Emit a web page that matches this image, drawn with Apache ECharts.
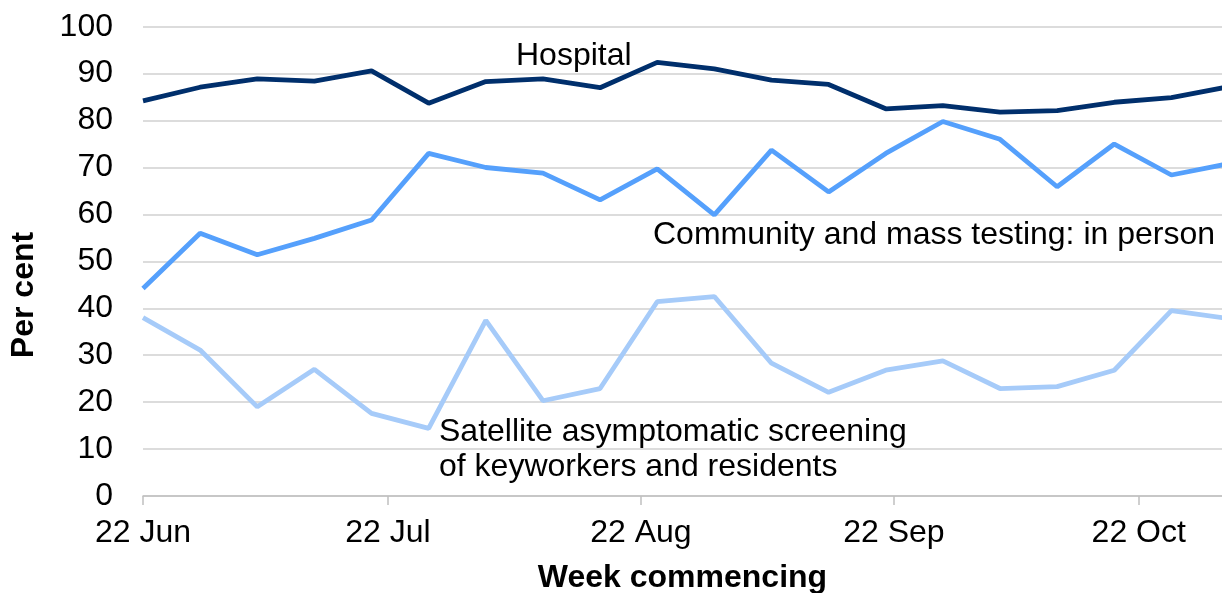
<!DOCTYPE html>
<html>
<head>
<meta charset="utf-8">
<script src="https://cdn.jsdelivr.net/npm/echarts@6/dist/echarts.min.js"></script>
<style>
html,body{margin:0;padding:0;background:#fff;}
#chart{width:1222px;height:593px;}
</style>
</head>
<body>
<div id="chart"></div>
<script>
// ---- data ----
var weeks = ['2020-06-22','2020-06-29','2020-07-06','2020-07-13','2020-07-20','2020-07-27',
             '2020-08-03','2020-08-10','2020-08-17','2020-08-24','2020-08-31','2020-09-07',
             '2020-09-14','2020-09-21','2020-09-28','2020-10-05','2020-10-12','2020-10-19',
             '2020-10-26','2020-11-02'];
var hospital = [84.2,87.1,88.9,88.4,90.6,83.7,88.3,88.9,87.0,92.4,91.0,88.6,87.7,82.5,83.2,81.8,82.1,83.9,84.9,87.2];
var community = [44.2,56.0,51.4,54.9,58.8,73.0,70.0,68.8,63.1,69.7,59.9,73.7,64.8,73.0,79.8,76.0,65.9,75.0,68.4,70.8];
var satellite = [38.0,31.1,19.0,27.0,17.6,14.4,37.4,20.3,22.9,41.4,42.5,28.3,22.1,26.8,28.8,22.9,23.3,26.8,39.5,37.8];
var tickDates = ['2020-06-22','2020-07-22','2020-08-22','2020-09-22','2020-10-22'];
var tickLabels = ['22 Jun','22 Jul','22 Aug','22 Sep','22 Oct'];
var seriesNames = ['Hospital','Community and mass testing: in person','Satellite asymptomatic screening\nof keyworkers and residents'];
var axisTitles = ['Week commencing','Per cent'];

function t(s){ var p = s.split('-'); return Date.UTC(+p[0], +p[1]-1, +p[2]); }
function pairs(vals){ return weeks.map(function(w,i){ return [t(w), vals[i]]; }); }
var tickVals = tickDates.map(t);

var FONT = '"Liberation Sans", Arial, sans-serif';
var FS = 32;
var chart = echarts.init(document.getElementById('chart'), null, {renderer:'canvas'});
chart.setOption({
  animation: false,
  backgroundColor: '#ffffff',
  grid: { left: 143, right: 0, top: 26.7, bottom: 97, containLabel: false, outerBoundsMode: 'none' },
  xAxis: {
    type: 'value',
    min: t('2020-06-22'),
    max: t('2020-06-22') + 132.2 * 86400000,
    name: axisTitles[0],
    nameLocation: 'middle',
    nameGap: 66,
    nameTextStyle: { fontFamily: FONT, fontSize: FS, fontWeight: 'bold', color: '#000' },
    axisLine: { show: true, lineStyle: { color: '#c0c0c0', width: 1.5 } },
    axisTick: { show: true, length: 9, customValues: tickVals, lineStyle: { color: '#c0c0c0', width: 1.5 } },
    axisLabel: {
      customValues: tickVals,
      margin: 21,
      fontFamily: FONT, fontSize: FS, color: '#000',
      formatter: function(v){ var i = tickVals.indexOf(v); return i >= 0 ? tickLabels[i] : ''; }
    },
    splitLine: { show: false }
  },
  yAxis: {
    type: 'value', min: 0, max: 100, interval: 10,
    axisLine: { show: false },
    axisTick: { show: false },
    axisLabel: { margin: 30, fontFamily: FONT, fontSize: FS, color: '#000' },
    splitLine: { show: true, lineStyle: { color: '#d0d0d0', width: 1.5 } }
  },
  series: [
    { name: seriesNames[0], type: 'line', data: pairs(hospital), showSymbol: false, symbol: 'none',
      lineStyle: { color: '#002f6c', width: 4.8 }, z: 3 },
    { name: seriesNames[1], type: 'line', data: pairs(community), showSymbol: false, symbol: 'none',
      lineStyle: { color: '#55a0fc', width: 4.8 }, z: 2 },
    { name: seriesNames[2], type: 'line', data: pairs(satellite), showSymbol: false, symbol: 'none',
      lineStyle: { color: '#a6cbf9', width: 4.8 }, z: 1 }
  ],
  graphic: [
    { type: 'text', x: 24, y: 295, rotation: Math.PI / 2, silent: true,
      style: { text: axisTitles[1], font: 'bold ' + FS + 'px ' + FONT, fill: '#000', align: 'center', verticalAlign: 'middle' } },
    { type: 'text', left: 516, top: 40, silent: true,
      style: { text: seriesNames[0], font: FS + 'px ' + FONT, fill: '#000' } },
    { type: 'text', left: 653, top: 219, silent: true,
      style: { text: seriesNames[1], font: FS + 'px ' + FONT, fill: '#000' } },
    { type: 'text', left: 439, top: 415, silent: true,
      style: { text: seriesNames[2], font: FS + 'px ' + FONT, fill: '#000', lineHeight: 35 } }
  ]
});
</script>
</body>
</html>
